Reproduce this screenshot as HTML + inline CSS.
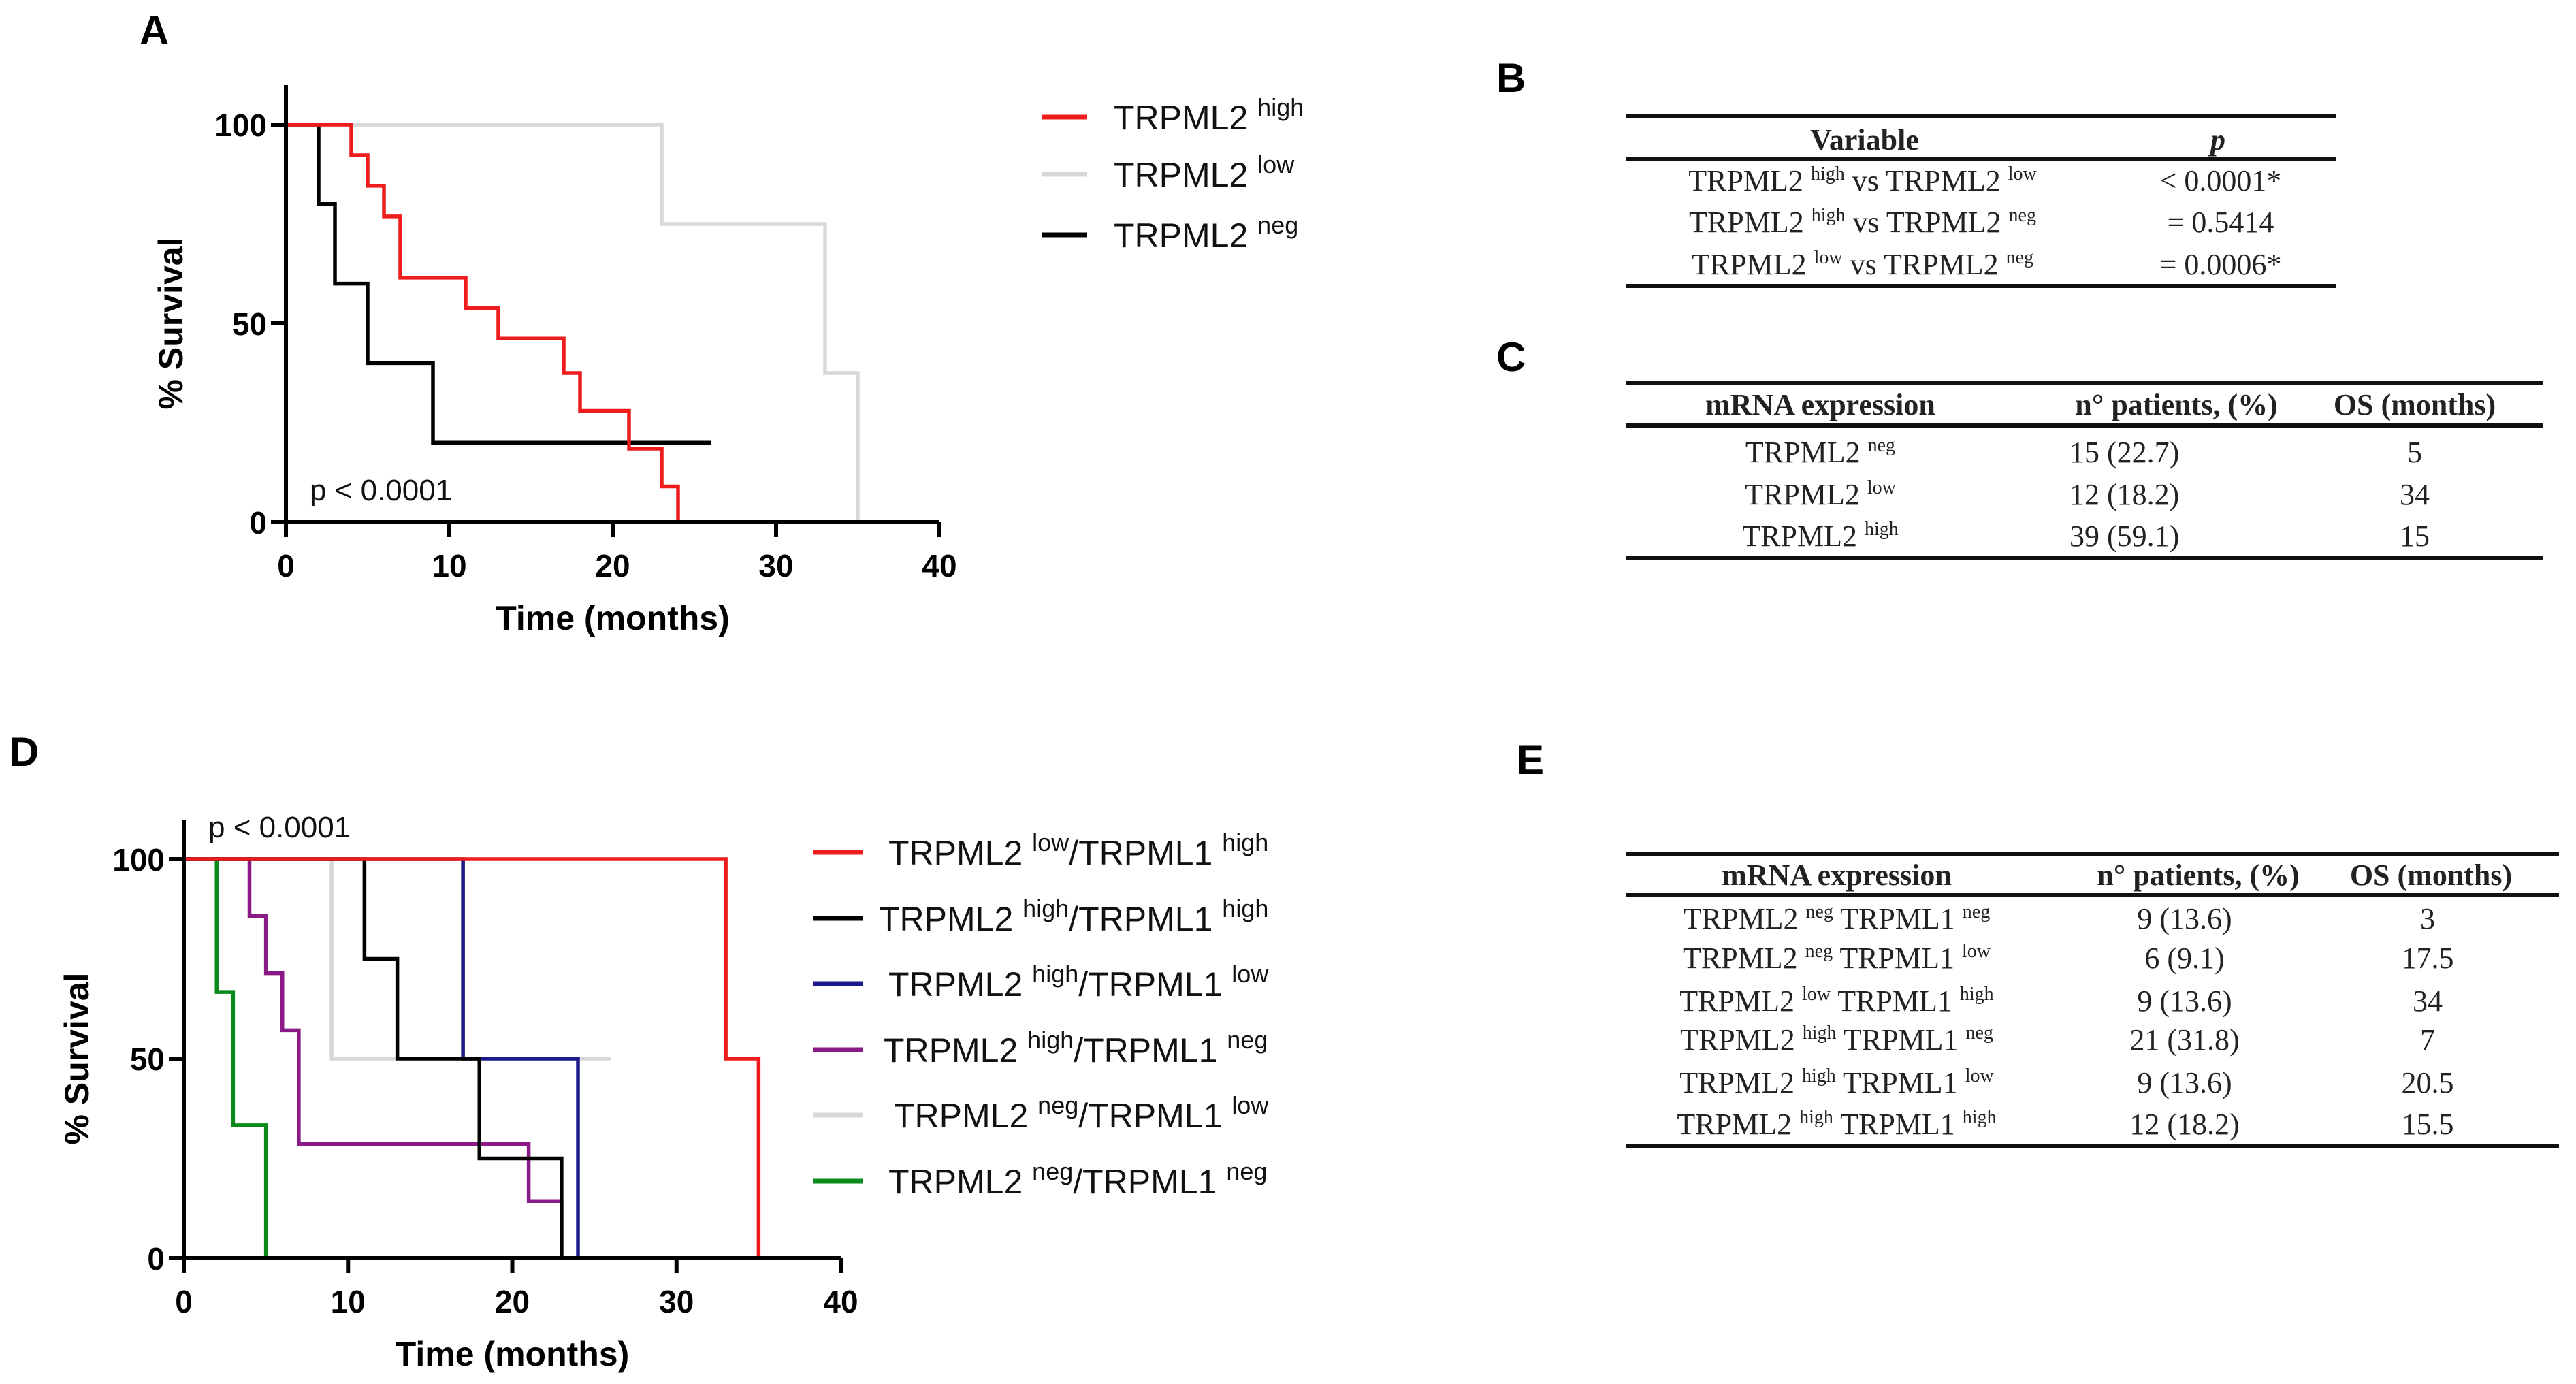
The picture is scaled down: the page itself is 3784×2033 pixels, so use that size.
<!DOCTYPE html>
<html><head><meta charset="utf-8"><style>
html,body{margin:0;padding:0;background:#fff;}
svg{display:block;}
.t{font-family:"Liberation Sans",Arial,sans-serif;}
.s{font-family:"Liberation Serif",serif;fill:#222;}
</style></head><body>
<svg id="fig" width="3784" height="2033" viewBox="0 0 3784 2033" xmlns="http://www.w3.org/2000/svg">
<g id="A"></g>
<g id="D"></g>
<g id="tables"></g>
</svg>
<script>
// ---- Panel A data ----
const aHighT = [0, 4, 5, 6, 7, 11, 13, 17, 18, 21, 23, 24];
const aHighS = [100, 92.3, 84.6, 76.9, 61.5, 53.8, 46.2, 37.5, 28, 18.5, 9, 0];
const aLowT = [0, 23, 33, 35];
const aLowS = [100, 75, 37.5, 0];
const aNegT = [0, 2, 3, 5, 9, 26];
const aNegS = [100, 80, 60, 40, 20, 20];
// ---- Panel D data ----
const dLowHighT = [0, 33, 35];
const dLowHighS = [100, 50, 0];
const dHighHighT = [0, 11, 13, 18, 23];
const dHighHighS = [100, 75, 50, 25, 0];
const dHighLowT = [0, 17, 24];
const dHighLowS = [100, 50, 0];
const dHighNegT = [0, 4, 5, 6, 7, 21, 23];
const dHighNegS = [100, 85.7, 71.4, 57.1, 28.6, 14.3, 0];
const dNegLowT = [0, 9, 26];
const dNegLowS = [100, 50, 50];
const dNegNegT = [0, 2, 3, 5];
const dNegNegS = [100, 66.7, 33.3, 0];
const xTicks = [0, 10, 20, 30, 40];
const yTicks = [0, 50, 100];

const NS = "http://www.w3.org/2000/svg";
function mk(parent, tag, attrs, text){
  const e = document.createElementNS(NS, tag);
  for (const k in attrs) e.setAttribute(k, attrs[k]);
  if (text !== undefined) e.textContent = text;
  parent.appendChild(e);
  return e;
}

function chart(g, cfg){
  const sx = v => cfg.x0 + (v/40)*(cfg.x1-cfg.x0);
  const sy = v => cfg.y0 - (v/100)*(cfg.y0-cfg.y100);
  cfg.series.forEach(s=>{
    let d = "M" + sx(s.t[0]) + "," + sy(s.s[0]);
    for (let i=1;i<s.t.length;i++){
      d += " H" + sx(s.t[i]);
      d += " V" + sy(s.s[i]);
    }
    const p = mk(g,"path",{d:d,fill:"none",stroke:s.c,"stroke-width":5.5,"stroke-linejoin":"miter"});
    
    
  });
  const ax = mk(g,"path",{d:"M"+cfg.x0+","+cfg.ytop+" V"+cfg.y0+" H"+cfg.x1,fill:"none",stroke:"#000","stroke-width":6});
  
  
  yTicks.forEach(v=>{
    const l = mk(g,"line",{x1:cfg.x0-22,x2:cfg.x0,y1:sy(v),y2:sy(v),stroke:"#000","stroke-width":6});
    
    
    const t = mk(g,"text",{x:cfg.x0-28,y:sy(v)+17,"text-anchor":"end","font-size":46,"font-weight":"bold",class:"t"},String(v));
    
    
  });
  xTicks.forEach(v=>{
    const l = mk(g,"line",{x1:sx(v),x2:sx(v),y1:cfg.y0,y2:cfg.y0+22,stroke:"#000","stroke-width":6});
    
    
    const t = mk(g,"text",{x:sx(v),y:cfg.y0+80,"text-anchor":"middle","font-size":46,"font-weight":"bold",class:"t"},String(v));
    
    
  });
  const xt = mk(g,"text",{x:(cfg.x0+cfg.x1)/2,y:cfg.y0+158,"text-anchor":"middle","font-size":50,"font-weight":"bold",class:"t"},"Time (months)");
  
  
  const yx = cfg.ytx, yy = (cfg.y0+cfg.y100)/2;
  const yt = mk(g,"text",{x:yx,y:yy,"text-anchor":"middle","font-size":50,"font-weight":"bold",class:"t",transform:"rotate(-90 "+yx+" "+yy+")"},"% Survival");
  
  
  const pl = mk(g,"text",{x:cfg.px,y:cfg.py,"font-size":44,class:"t",fill:"#111"},"p < 0.0001");
  
  
  const lab = mk(g,"text",{x:cfg.lx,y:cfg.ly,"font-size":60,"font-weight":"bold",class:"t"},cfg.letter);
  
  
  cfg.legend.forEach(L=>{
    const lg = mk(g,"g",{});
    
    
    mk(lg,"line",{x1:cfg.legX1,x2:cfg.legX2,y1:L.y,y2:L.y,stroke:L.c,"stroke-width":7});
    const t = mk(lg,"text",{x:L.tx,y:L.y+18,"font-size":50,class:"t",fill:"#111"});
    L.parts.forEach(p=>{
      mk(t,"tspan",p.sup?{"font-size":36,dy:-20}:{"font-size":50,dy:p.down?20:0},p.s);
    });
  });
}

chart(document.getElementById("A"),{
  x0:420,x1:1380,y0:767,y100:183,ytop:125,ytx:268,px:455,py:735,lx:205,ly:65,letter:"A",
  series:[
    {t:aLowT,s:aLowS,c:"#d8d8d8",name:"series-trpml2-low"},
    {t:aNegT,s:aNegS,c:"#000",name:"series-trpml2-neg"},
    {t:aHighT,s:aHighS,c:"#ee1c1c",name:"series-trpml2-high"}
  ],
  legX1:1530,legX2:1597,
  legend:[
    {y:172,c:"#ee1c1c",tx:1636,parts:[{s:"TRPML2 "},{s:"high",sup:true}]},
    {y:256,c:"#d8d8d8",tx:1636,parts:[{s:"TRPML2 "},{s:"low",sup:true}]},
    {y:345,c:"#000",tx:1636,parts:[{s:"TRPML2 "},{s:"neg",sup:true}]}
  ]
});
chart(document.getElementById("D"),{
  x0:270,x1:1235,y0:1848,y100:1262,ytop:1205,ytx:130,px:306,py:1230,lx:14,ly:1125,letter:"D",
  series:[
    {t:dNegLowT,s:dNegLowS,c:"#d8d8d8",name:"series-neg-low"},
    {t:dNegNegT,s:dNegNegS,c:"#0a8a1a",name:"series-neg-neg"},
    {t:dHighNegT,s:dHighNegS,c:"#8a1a86",name:"series-high-neg"},
    {t:dHighLowT,s:dHighLowS,c:"#1a1a8a",name:"series-high-low"},
    {t:dHighHighT,s:dHighHighS,c:"#000",name:"series-high-high"},
    {t:dLowHighT,s:dLowHighS,c:"#ee1c1c",name:"series-low-high"}
  ],
  legX1:1194,legX2:1267,
  legend:[
    {y:1252,c:"#ee1c1c",tx:1305,parts:[{s:"TRPML2 "},{s:"low",sup:true},{s:"/TRPML1 ",down:true},{s:"high",sup:true}]},
    {y:1349,c:"#000",tx:1291,parts:[{s:"TRPML2 "},{s:"high",sup:true},{s:"/TRPML1 ",down:true},{s:"high",sup:true}]},
    {y:1445,c:"#1a1a8a",tx:1305,parts:[{s:"TRPML2 "},{s:"high",sup:true},{s:"/TRPML1 ",down:true},{s:"low",sup:true}]},
    {y:1542,c:"#8a1a86",tx:1298,parts:[{s:"TRPML2 "},{s:"high",sup:true},{s:"/TRPML1 ",down:true},{s:"neg",sup:true}]},
    {y:1638,c:"#d8d8d8",tx:1313,parts:[{s:"TRPML2 "},{s:"neg",sup:true},{s:"/TRPML1 ",down:true},{s:"low",sup:true}]},
    {y:1735,c:"#0a8a1a",tx:1305,parts:[{s:"TRPML2 "},{s:"neg",sup:true},{s:"/TRPML1 ",down:true},{s:"neg",sup:true}]}
  ]
});

// ---- Tables ----
const tg = document.getElementById("tables");
function hline(x1,x2,y,name){
  const l = mk(tg,"line",{x1:x1,x2:x2,y1:y,y2:y,stroke:"#111","stroke-width":6});
  
  
}
function cell(x,y,parts,anchor,bold,name,italic){
  const t = mk(tg,"text",{x:x,y:y,"text-anchor":anchor||"middle","font-size":44,class:"s","font-weight":bold?"bold":"normal","font-style":italic?"italic":"normal"});
  
  
  if (typeof parts === "string") { t.textContent = parts; return t; }
  parts.forEach(p=>{
    if (p.sup) mk(t,"tspan",{"font-size":28,dy:-16},p.s);
    else mk(t,"tspan",{"font-size":44,dy:p.down?16:0},p.s);
  });
  return t;
}
function lab(x,y,s){
  const t = mk(tg,"text",{x:x,y:y,"font-size":60,"font-weight":"bold",class:"t"},s);
  
  
}
// B
lab(2198,135,"B");
hline(2389,3431,171,"table-b-top-rule");
hline(2389,3431,234,"table-b-header-rule");
hline(2389,3431,420,"table-b-bottom-rule");
cell(2739,220,"Variable","middle",true,"table-b-header-variable");
cell(3258,220,"p","middle",true,"table-b-header-p",true);
const bRows=[
  [[{s:"TRPML2 "},{s:"high",sup:true},{s:" vs TRPML2 ",down:true},{s:"low",sup:true}],"< 0.0001*"],
  [[{s:"TRPML2 "},{s:"high",sup:true},{s:" vs TRPML2 ",down:true},{s:"neg",sup:true}],"= 0.5414"],
  [[{s:"TRPML2 "},{s:"low",sup:true},{s:" vs TRPML2 ",down:true},{s:"neg",sup:true}],"= 0.0006*"]
];
[280,341,403].forEach((y,i)=>{
  cell(2736,y,bRows[i][0],"middle",false,"table-b-row-label");
  cell(3262,y,bRows[i][1],"middle",false,"table-b-row-p");
});
// C
lab(2198,545,"C");
hline(2389,3735,562,"table-c-top-rule");
hline(2389,3735,625,"table-c-header-rule");
hline(2389,3735,820,"table-c-bottom-rule");
cell(2674,609,"mRNA expression","middle",true,"table-c-header-expression");
cell(3197,609,"n° patients, (%)","middle",true,"table-c-header-patients");
cell(3547,609,"OS (months)","middle",true,"table-c-header-os");
const cRows=[["neg","15 (22.7)","5"],["low","12 (18.2)","34"],["high","39 (59.1)","15"]];
[679,741,802].forEach((y,i)=>{
  cell(2674,y,[{s:"TRPML2 "},{s:cRows[i][0],sup:true}],"middle",false,"table-c-row-label");
  cell(3040,y,cRows[i][1],"start",false,"table-c-row-patients");
  cell(3547,y,cRows[i][2],"middle",false,"table-c-row-os");
});
// E
lab(2228,1137,"E");
hline(2389,3759,1255,"table-e-top-rule");
hline(2389,3759,1315,"table-e-header-rule");
hline(2389,3759,1684,"table-e-bottom-rule");
cell(2698,1300,"mRNA expression","middle",true,"table-e-header-expression");
cell(3229,1300,"n° patients, (%)","middle",true,"table-e-header-patients");
cell(3571,1300,"OS (months)","middle",true,"table-e-header-os");
const eRows=[["neg","neg","9 (13.6)","3"],["neg","low","6 (9.1)","17.5"],["low","high","9 (13.6)","34"],["high","neg","21 (31.8)","7"],["high","low","9 (13.6)","20.5"],["high","high","12 (18.2)","15.5"]];
[1364,1422,1485,1542,1605,1666].forEach((y,i)=>{
  cell(2698,y,[{s:"TRPML2 "},{s:eRows[i][0],sup:true},{s:" TRPML1 ",down:true},{s:eRows[i][1],sup:true}],"middle",false,"table-e-row-label");
  cell(3209,y,eRows[i][2],"middle",false,"table-e-row-patients");
  cell(3566,y,eRows[i][3],"middle",false,"table-e-row-os");
});
</script>
</body></html>
